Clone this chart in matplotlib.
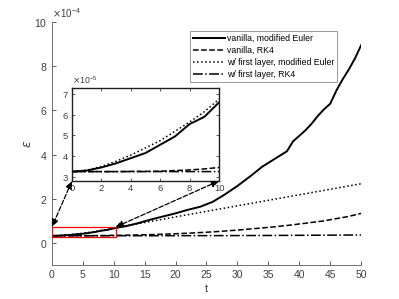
import numpy as np
import matplotlib
matplotlib.use('Agg')
import matplotlib.pyplot as plt
from matplotlib.patches import Rectangle, ConnectionPatch

plt.rcParams['font.family'] = ['Liberation Sans', 'DejaVu Sans']
plt.rcParams['mathtext.fontset'] = 'dejavusans'

#-------------------------------------------------------------------------------
# data (error in units of 1e-5)
t = [0, 1, 2, 3, 4, 5, 6, 7, 8, 9, 10, 12, 14, 16, 18, 20, 22, 24, 26, 28, 30,
     32, 34, 36, 38, 39, 40, 41, 42, 43, 44, 45, 46, 47, 48, 49, 50]

van_me = [3.25, 3.3, 3.45, 3.65, 3.9, 4.15, 4.55, 4.95, 5.55, 5.9, 6.6,
          7.6, 9.0, 10.6, 12.0, 13.4, 15.0, 16.4, 18.6, 22.0, 25.8,
          30.0, 34.5, 38.0, 41.5, 46.0, 48.5, 51.0, 54.0, 57.5, 60.5, 63.0, 69.0, 74.0, 78.5, 83.5, 89.5]
van_rk4 = [3.25, 3.25, 3.25, 3.25, 3.26, 3.26, 3.27, 3.3, 3.33, 3.38, 3.45,
           3.5, 3.6, 3.75, 3.95, 4.15, 4.4, 4.7, 5.0, 5.4, 5.8,
           6.3, 6.8, 7.3, 7.9, 8.2, 8.6, 8.9, 9.3, 9.6, 10.0, 10.5, 11.0, 11.5, 12.0, 12.7, 13.4]
fl_me = [3.25, 3.32, 3.5, 3.75, 4.05, 4.4, 4.75, 5.2, 5.65, 6.15, 6.75,
         7.75, 8.75, 9.75, 10.75, 11.8, 12.8, 13.8, 14.8, 15.8, 16.8,
         17.8, 18.8, 19.8, 20.8, 21.3, 21.8, 22.3, 22.8, 23.3, 23.8, 24.3, 24.8, 25.3, 25.8, 26.3, 26.8]
fl_rk4 = [3.25, 3.25, 3.25, 3.25, 3.25, 3.25, 3.25, 3.25, 3.25, 3.25, 3.25,
          3.25, 3.26, 3.26, 3.27, 3.28, 3.29, 3.3, 3.31, 3.32, 3.33,
          3.35, 3.37, 3.39, 3.42, 3.43, 3.45, 3.46, 3.48, 3.49, 3.51, 3.52, 3.54, 3.55, 3.57, 3.58, 3.6]

labels = ['vanilla, modified Euler', 'vanilla, RK4',
          'w/ first layer, modified Euler', 'w/ first layer, RK4']

zoom_box = [0, 10.3, 2.5e-5, 7.2e-5]   # t0, t1, e0, e1

#-------------------------------------------------------------------------------
grey = '#404040'
series = [(van_me, '-', 1.4), (van_rk4, '--', 1.1), (fl_me, ':', 1.1), (fl_rk4, '-.', 1.1)]

fig = plt.figure(figsize=(3.99, 2.99), dpi=100)
ax = fig.add_axes([0.130, 0.1137, 0.775, 0.8123])

tt = np.array(t)
for (vals, ls, lw), lab in zip(series, labels):
    ax.plot(tt, np.array(vals) * 1e-5, color='black', linestyle=ls, linewidth=lw, label=lab)

ax.set_xlim(0, 50)
ax.set_ylim(-1e-4, 10e-4)
ax.set_xticks(np.arange(0, 51, 5))
ax.set_yticks(np.arange(0, 11, 2) * 1e-4)
ax.ticklabel_format(axis='y', style='sci', scilimits=(-4, -4), useMathText=True)
ax.yaxis.get_offset_text().set_fontsize(7)
ax.yaxis.get_offset_text().set_color(grey)
ax.tick_params(direction='in', labelsize=7.5, colors=grey, length=3, width=0.6)
for side in ['top', 'right']:
    ax.spines[side].set_visible(False)
for side in ['left', 'bottom']:
    ax.spines[side].set_color('#707070')
    ax.spines[side].set_linewidth(0.7)
ax.set_xlabel('t', fontsize=8, color=grey, labelpad=3)
ax.set_ylabel(r'$\epsilon$', fontsize=9, color=grey, labelpad=0)

ax.legend(loc='upper right', bbox_to_anchor=(0.845, 0.896), bbox_transform=fig.transFigure,
          fontsize=6.3, frameon=True, fancybox=False, edgecolor='#808080',
          handlelength=3.6, handletextpad=0.2, labelspacing=0.35, borderpad=0.35,
          borderaxespad=0).get_frame().set_linewidth(0.7)

# zoom rectangle
t0, t1, e0, e1 = zoom_box
ax.add_patch(Rectangle((t0, e0), t1 - t0, e1 - e0, fill=False, edgecolor='red', linewidth=0.9, zorder=5))

#-------------------------------------------------------------------------------
# inset
axi = fig.add_axes([0.1805, 0.395, 0.3685, 0.311])
for (vals, ls, lw), lab in zip(series, labels):
    axi.plot(tt, np.array(vals) * 1e-5, color='black', linestyle=ls, linewidth=lw)
axi.set_xlim(0, 10)
axi.set_ylim(2.8e-5, 7.3e-5)
axi.set_xticks(np.arange(0, 11, 2))
axi.set_yticks(np.arange(3, 8, 1) * 1e-5)
axi.ticklabel_format(axis='y', style='sci', scilimits=(-5, -5), useMathText=True)
axi.yaxis.get_offset_text().set_fontsize(6.3)
axi.yaxis.get_offset_text().set_color(grey)
axi.tick_params(direction='in', labelsize=6.8, colors=grey, length=2.5, width=0.6,
                top=True, right=True, pad=2)
for side in axi.spines.values():
    side.set_color('#202020')
    side.set_linewidth(1.0)

# dashed arrows from the box to the inset
for xa, xb in [(0, t0), (1, t1)]:
    con = ConnectionPatch(xyA=(xa, 0), coordsA=axi.transAxes, xyB=(xb, e1), coordsB=ax.transData,
                          arrowstyle='<|-|>,head_length=0.45,head_width=0.2', linestyle='--',
                          color='black', linewidth=0.9, shrinkA=0, shrinkB=0, zorder=6)
    fig.add_artist(con)

fig.savefig('out.png', dpi=100)
